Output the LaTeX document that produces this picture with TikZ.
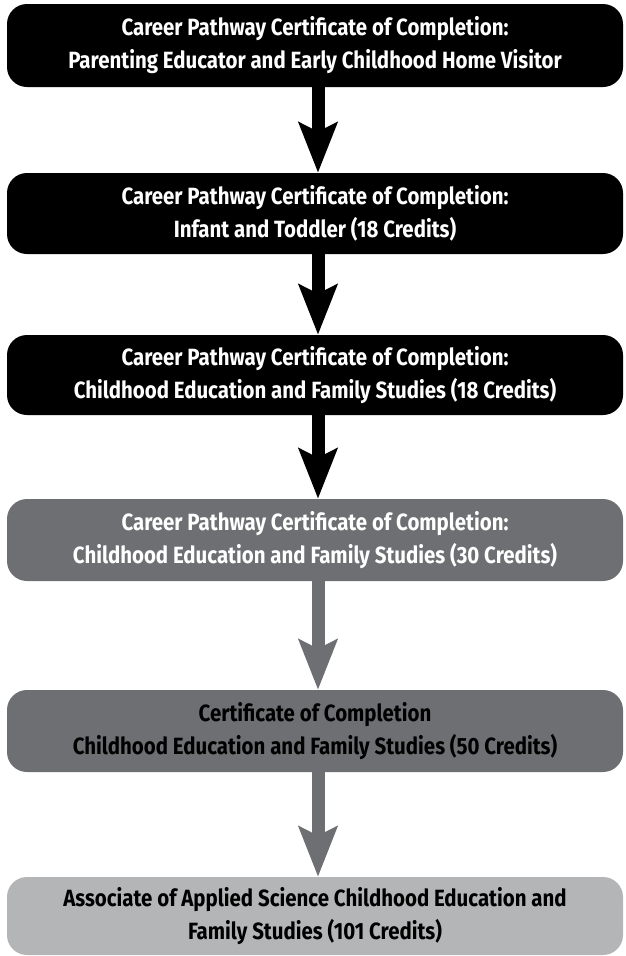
\documentclass[tikz,border=0pt]{standalone}
\usepackage{fontspec}
\setmainfont{Fira Sans}[FakeStretch=0.87]
\usetikzlibrary{arrows.meta}
\definecolor{dgray}{RGB}{110,111,114}
\definecolor{lgray}{RGB}{180,181,183}
\tikzset{
  stagebox/.style={rounded corners=20pt, minimum width=616pt, inner sep=0pt, align=center,
    font=\fontsize{23.5}{33}\selectfont\bfseries},
  flowarrow/.style={line width=13pt, -{Stealth[length=50pt,width=38pt,inset=9pt]}},
}
\begin{document}
\begin{tikzpicture}[x=1pt,y=1pt]
\useasboundingbox (0,0) rectangle (626,-956);
\node[stagebox, fill=black, text=white, minimum height=83pt] (b1) at (315,-45.5)
  {Career Pathway Certificate of Completion:\\Parenting Educator and Early Childhood Home Visitor};
\node[stagebox, fill=black, text=white, minimum height=81pt] (b2) at (315,-213.5)
  {Career Pathway Certificate of Completion:\\Infant and Toddler (18 Credits)};
\node[stagebox, fill=black, text=white, minimum height=80pt] (b3) at (315,-375)
  {Career Pathway Certificate of Completion:\\Childhood Education and Family Studies (18 Credits)};
\node[stagebox, fill=dgray, text=white, minimum height=82pt] (b4) at (315,-540)
  {Career Pathway Certificate of Completion:\\Childhood Education and Family Studies (30 Credits)};
\node[stagebox, fill=dgray, text=black, minimum height=82pt] (b5) at (315,-731)
  {Certificate of Completion\\Childhood Education and Family Studies (50 Credits)};
\node[stagebox, fill=lgray, text=black, minimum height=78pt] (b6) at (315,-916)
  {Associate of Applied Science Childhood Education and\\Family Studies (101 Credits)};
\draw[flowarrow, black] ([xshift=3pt]b1.south) -- ([xshift=3pt]b2.north);
\draw[flowarrow, black] ([xshift=3pt]b2.south) -- ([xshift=3pt]b3.north);
\draw[flowarrow, black] ([xshift=3pt]b3.south) -- ([xshift=3pt]b4.north);
\draw[flowarrow, dgray] ([xshift=3pt]b4.south) -- ([xshift=3pt]b5.north);
\draw[flowarrow, dgray] ([xshift=3pt]b5.south) -- ([xshift=3pt]b6.north);
\end{tikzpicture}
\end{document}
